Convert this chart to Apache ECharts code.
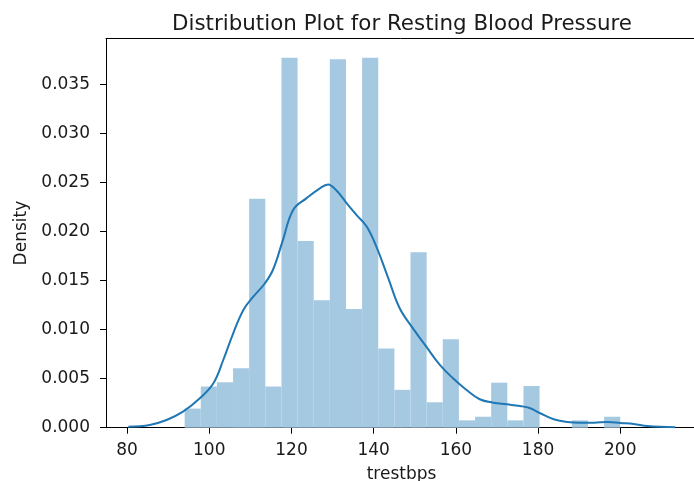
<!DOCTYPE html>
<html>
<head>
<meta charset="utf-8">
<script src="https://cdn.jsdelivr.net/npm/echarts@6/dist/echarts.min.js"></script>
<style>
html,body{margin:0;padding:0;background:#fff;}
#chart{width:694px;height:481px;}
</style>
</head>
<body>
<div id="chart"></div>
<script>
// Histogram bin edges (trestbps) and bar densities
const binEdges = [94, 97.93, 101.85, 105.78, 109.70, 113.63, 117.56, 121.48, 125.41, 129.33, 133.26, 137.19, 141.11, 145.04, 148.96, 152.89, 156.81, 160.74, 164.67, 168.59, 172.52, 176.44, 180.37, 184.30, 188.22, 192.15, 196.07, 200];
const barDensity = [0.00195, 0.0042, 0.00463, 0.00605, 0.02333, 0.0042, 0.03772, 0.01902, 0.0130, 0.03755, 0.0121, 0.03772, 0.00807, 0.00386, 0.01788, 0.00259, 0.00901, 0.00075, 0.00112, 0.00459, 0.00075, 0.00425, 0, 0, 0.00075, 0, 0.00112];

// KDE curve points
const kdeX = [80.3, 85.5, 89.6, 93.6, 97.7, 101.0, 103.4, 105.8, 108.3, 110.7, 113.5, 115.5, 117.9, 120.4, 123.7, 126.9, 128.9, 130.9, 133.4, 135.8, 138.3, 140.7, 143.5, 146.3, 149.6, 152.8, 156.1, 159.3, 162.6, 165.8, 169.1, 172.4, 175.6, 178.1, 180.5, 183.8, 187.1, 190.3, 193.6, 196.9, 200.1, 203.3, 206.6, 213.4];
const kdeY = [0.0001, 0.00028, 0.00078, 0.00163, 0.0030, 0.00453, 0.0069, 0.0096, 0.0120, 0.01335, 0.0147, 0.0161, 0.0191, 0.0222, 0.0234, 0.0244, 0.0248, 0.0242, 0.0229, 0.0217, 0.0205, 0.0184, 0.0153, 0.0122, 0.0101, 0.00826, 0.0064, 0.00504, 0.00384, 0.0029, 0.00255, 0.00238, 0.00221, 0.00198, 0.00147, 0.00086, 0.00058, 0.00051, 0.00051, 0.00058, 0.00048, 0.00038, 0.00017, 0.00004];

// Tick labels
const xTicks = [80, 100, 120, 140, 160, 180, 200];
const yTicks = [0, 0.005, 0.010, 0.015, 0.020, 0.025, 0.030, 0.035];

const titleText = 'Distribution Plot for Resting Blood Pressure';
const xName = 'trestbps';
const yName = 'Density';

const FONT = 'DejaVu Sans';
const TXT = '#1a1a1a';
const FS = 17;

const barData = barDensity.map((d, i) => [binEdges[i], binEdges[i + 1], d]);
const kdeData = kdeX.map((x, i) => [x, kdeY[i]]);

const chart = echarts.init(document.getElementById('chart'), null, {renderer: 'canvas'});
chart.setOption({
  animation: false,
  backgroundColor: '#fff',
  graphic: [{
    type: 'text',
    x: 402,
    y: 24,
    style: {
      text: titleText,
      font: '21.4px "' + FONT + '"',
      fill: TXT,
      align: 'center',
      verticalAlign: 'middle'
    }
  }],
  grid: {left: 106, right: -3, top: 38.5, bottom: 53.3, show: false, containLabel: false, outerBoundsMode: 'none'},
  xAxis: [{
    type: 'value',
    min: 74.87,
    max: 218.67,
    name: xName,
    nameLocation: 'middle',
    nameGap: 38,
    nameTextStyle: {fontFamily: FONT, fontSize: FS, color: TXT},
    axisLine: {show: true, onZero: false, lineStyle: {color: '#000', width: 1}},
    axisTick: {show: true, inside: false, length: 6, lineStyle: {color: '#000', width: 1}, customValues: xTicks},
    axisLabel: {show: true, margin: 14, fontFamily: FONT, fontSize: FS, color: TXT, customValues: xTicks, formatter: v => String(v)},
    splitLine: {show: false}
  }, {
    type: 'value',
    position: 'top',
    min: 74.87,
    max: 218.67,
    axisLine: {show: true, onZero: false, lineStyle: {color: '#000', width: 1}},
    axisTick: {show: false},
    axisLabel: {show: false},
    splitLine: {show: false}
  }],
  yAxis: [{
    type: 'value',
    min: 0,
    max: 0.03967,
    name: yName,
    nameLocation: 'middle',
    nameGap: 75,
    nameTextStyle: {fontFamily: FONT, fontSize: FS, color: TXT},
    axisLine: {show: true, onZero: false, lineStyle: {color: '#000', width: 1}},
    axisTick: {show: true, inside: false, length: 6, lineStyle: {color: '#000', width: 1}, customValues: yTicks},
    axisLabel: {show: true, margin: 16, fontFamily: FONT, fontSize: FS, color: TXT, customValues: yTicks, formatter: v => v.toFixed(3)},
    splitLine: {show: false}
  }],
  series: [{
    type: 'custom',
    xAxisIndex: 0,
    yAxisIndex: 0,
    data: barData,
    encode: {x: [0, 1], y: 2},
    renderItem: function (params, api) {
      const p0 = api.coord([api.value(0), api.value(2)]);
      const p1 = api.coord([api.value(1), 0]);
      return {
        type: 'rect',
        shape: {x: p0[0], y: p0[1], width: p1[0] - p0[0], height: p1[1] - p0[1]},
        style: {fill: '#a5c9e1', stroke: null}
      };
    },
    z: 1
  }, {
    type: 'line',
    xAxisIndex: 0,
    yAxisIndex: 0,
    data: kdeData,
    showSymbol: false,
    smooth: 0.4,
    lineStyle: {color: '#1f77b4', width: 2},
    z: 2
  }]
});
</script>
</body>
</html>
